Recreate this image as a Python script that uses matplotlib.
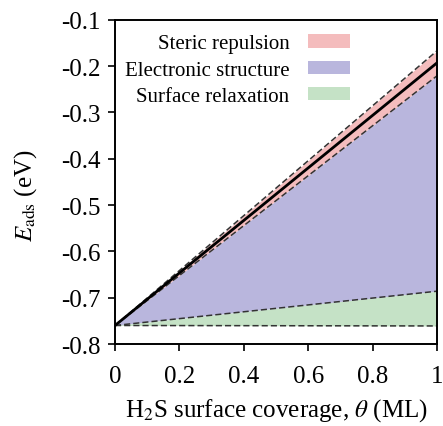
import matplotlib
matplotlib.use("Agg")
import matplotlib.pyplot as plt
import numpy as np

plt.rcParams['font.family'] = ['Liberation Serif', 'DejaVu Serif']
plt.rcParams['mathtext.fontset'] = 'stix'

theta = [0.0, 1.0]
steric_top = [-0.76, -0.167]
total = [-0.76, -0.193]
steric_bottom = [-0.76, -0.221]
electronic_bottom = [-0.76, -0.686]
relax_bottom = [-0.76, -0.761]

labels = ['Steric repulsion', 'Electronic structure', 'Surface relaxation']
colors = ['#f4bcbd', '#b9b6dd', '#c5e2c6']

fig = plt.figure(figsize=(4.43, 4.27), dpi=100)
ax = fig.add_axes([0.2596, 0.192, 0.727, 0.7595])

ax.fill_between(theta, steric_bottom, steric_top, color=colors[0], lw=0, label=labels[0])
ax.fill_between(theta, electronic_bottom, steric_bottom, color=colors[1], lw=0, label=labels[1])
ax.fill_between(theta, relax_bottom, electronic_bottom, color=colors[2], lw=0, label=labels[2])

dash = dict(color='#333333', ls=(0, (4, 2)), lw=1.1)
ax.plot(theta, steric_top, **dash)
ax.plot(theta, steric_bottom, **dash)
ax.plot(theta, electronic_bottom, **dash)
ax.plot(theta, relax_bottom, **dash)
ax.plot(theta, total, color='black', lw=2.0)

ax.set_xlim(0, 1)
ax.set_ylim(-0.8, -0.1)
ax.set_xticks([0, 0.2, 0.4, 0.6, 0.8, 1.0])
ax.set_xticklabels(['0', '0.2', '0.4', '0.6', '0.8', '1'])
ax.set_yticks(np.round(np.arange(-0.8, -0.05, 0.1), 1))
ax.set_yticklabels(['-0.8', '-0.7', '-0.6', '-0.5', '-0.4', '-0.3', '-0.2', '-0.1'])
ax.tick_params(labelsize=18, direction='out', length=5, width=1.2)
ax.tick_params(axis='x', pad=10)
ax.tick_params(axis='y', pad=5)
for s in ax.spines.values():
    s.set_linewidth(1.4)

ax.set_xlabel(r'H$_2$S surface coverage, $\theta$ (ML)', fontsize=18, labelpad=7)
ax.set_ylabel(r'$E_{\mathrm{ads}}$ (eV)', fontsize=18)
ax.yaxis.set_label_coords(-0.235, 0.46)

leg = ax.legend(loc='upper left', bbox_to_anchor=(-0.015, 1.0), frameon=False, fontsize=15,
                markerfirst=False, handlelength=2.0, handleheight=0.6,
                labelspacing=0.35, handletextpad=0.9, borderaxespad=0.3)

fig.savefig('out.png', dpi=100)
